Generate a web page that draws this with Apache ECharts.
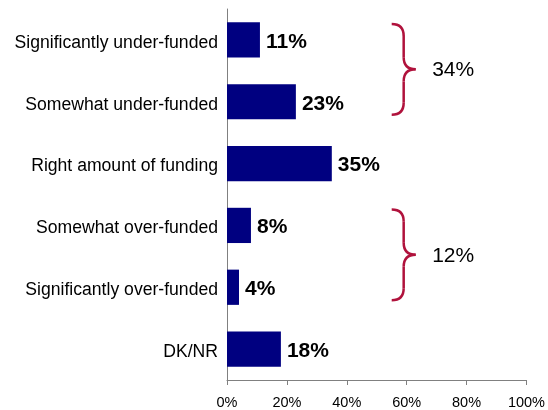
<!DOCTYPE html>
<html><head><meta charset="utf-8">
<script src="https://cdn.jsdelivr.net/npm/echarts@6/dist/echarts.min.js"></script>
<style>html,body{margin:0;padding:0;background:#fff}#c{width:548px;height:410px}</style>
</head><body><div id="c"></div>
<script>
var categories = ["Significantly under-funded","Somewhat under-funded","Right amount of funding","Somewhat over-funded","Significantly over-funded","DK/NR"];
var values = [11, 23, 35, 8, 4, 18];
var tickLabels = ["0%","20%","40%","60%","80%","100%"];
var groupLabels = ["34%", "12%"];
var groupRanges = [[0,1],[3,4]];

var FONT = "Arial, 'Liberation Sans', sans-serif";
var chart = echarts.init(document.getElementById('c'), null, {renderer:'canvas'});
chart.setOption({
  animation:false,
  backgroundColor:'#fff',
  grid:{left:227,right:20,top:9,bottom:29,containLabel:false},
  xAxis:{type:'value',min:0,max:100,interval:20,
    axisLine:{show:true,lineStyle:{color:'#808080',width:1}},
    axisTick:{show:true,length:5,lineStyle:{color:'#808080'}},
    splitLine:{show:false},
    axisLabel:{formatter:function(v){return tickLabels[v/20];},fontFamily:FONT,fontSize:14.5,color:'#000',margin:15}},
  yAxis:{type:'category',data:categories,inverse:true,
    axisLine:{show:true,lineStyle:{color:'#808080',width:1}},
    axisTick:{show:false},
    axisLabel:{fontFamily:FONT,fontSize:17.6,color:'#000',margin:9,
      formatter:function(v){return '{a|'+v+'}';},
      rich:{a:{fontFamily:FONT,fontSize:17.6,color:'#000',padding:[6,0,0,0]}}}},
  series:[{type:'bar',data:values,barCategoryGap:'43%',
    itemStyle:{color:'#000080'},
    label:{show:true,position:'right',distance:6,formatter:'{c}%',fontFamily:FONT,fontSize:21,fontWeight:'bold',color:'#000',offset:[0,2]}}]
});

var STROKE={fill:null,stroke:'#B0123C',lineWidth:2.5};
function curve(a,b,c,d,cx,cy){return {type:'bezierCurve',shape:{x1:a,y1:b,x2:c,y2:d,cpx1:cx,cpy1:cy},style:STROKE};}
function seg(a,b,c,d){return {type:'line',shape:{x1:a,y1:b,x2:c,y2:d},style:STROKE};}
var g=[];
groupRanges.forEach(function(rg,i){
  var pTop=chart.convertToPixel({gridIndex:0},[55,categories[rg[0]]]);
  var pBot=chart.convertToPixel({gridIndex:0},[55,categories[rg[1]]]);
  var x1=chart.convertToPixel({gridIndex:0},[63,categories[rg[0]]])[0];
  var xLab=chart.convertToPixel({gridIndex:0},[68.5,categories[rg[0]]])[0];
  var x0=pTop[0], yT=pTop[1]-16, yB=pBot[1]+13;
  var xm=(x0+x1)/2, ym=(yT+yB)/2, r=12;
  g.push(curve(x0,yT,xm,yT+r,xm,yT));
  g.push(seg(xm,yT+r,xm,ym-r));
  g.push(curve(xm,ym-r,x1,ym,xm,ym));
  g.push(curve(x1,ym,xm,ym+r,xm,ym));
  g.push(seg(xm,ym+r,xm,yB-r));
  g.push(curve(xm,yB-r,x0,yB,xm,yB));
  g.push({type:'text',x:xLab,y:ym+1,style:{text:groupLabels[i],font:'21px '+FONT,fill:'#000',verticalAlign:'middle',textVerticalAlign:'middle'}});
});
chart.setOption({graphic:g});
</script></body></html>
